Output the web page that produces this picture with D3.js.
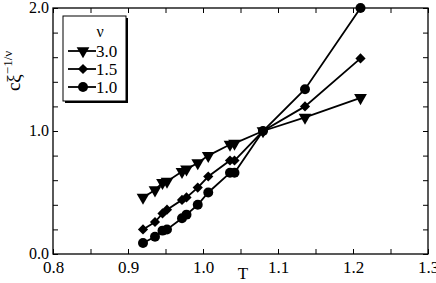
<!DOCTYPE html>
<html>
<head>
<meta charset="utf-8">
<script src="https://cdn.jsdelivr.net/npm/d3@7"></script>
<style>
  body { margin: 0; background: #fff; }
  text { font-family: "Liberation Serif", "DejaVu Serif", serif; fill: #000; }
</style>
</head>
<body>
<div id="chart"></div>
<script>
// temperatures (same for every series)
var temps = [0.92, 0.936, 0.946, 0.952, 0.972, 0.978, 0.993, 1.007, 1.036, 1.042, 1.08, 1.136, 1.21];
// c * xi^(-1/nu) for each nu
var nu30 = [0.46, 0.52, 0.58, 0.59, 0.67, 0.69, 0.74, 0.80, 0.89, 0.90, 1.00, 1.11, 1.27];
var nu15 = [0.20, 0.26, 0.33, 0.36, 0.44, 0.46, 0.54, 0.63, 0.76, 0.76, 1.00, 1.20, 1.59];
var nu10 = [0.09, 0.14, 0.19, 0.20, 0.29, 0.32, 0.40, 0.50, 0.66, 0.66, 1.00, 1.34, 2.00];
var seriesNames = ["3.0", "1.5", "1.0"];
var seriesMarks = ["triangle", "diamond", "circle"];
var xTicks = [0.8, 0.9, 1.0, 1.1, 1.2, 1.3];
var yTicks = [0.0, 1.0, 2.0];

var width = 436, height = 283;
var margin = { top: 8, right: 8, bottom: 29, left: 53 };
var w = width - margin.left - margin.right;
var h = height - margin.top - margin.bottom;

var svg = d3.select("#chart").append("svg")
    .attr("width", width)
    .attr("height", height);

var g = svg.append("g")
    .attr("transform", "translate(" + margin.left + "," + margin.top + ")");

var x = d3.scaleLinear().domain([0.8, 1.3]).range([0, w]);
var y = d3.scaleLinear().domain([0, 2.0]).range([h, 0]);

// minor ticks every 0.05 in x, 0.2 in y
var xMinor = d3.range(0.8, 1.3001, 0.05);
var yMinor = d3.range(0, 2.0001, 0.2);
var tickLen = 5;

function fmt(d) { return d3.format(".1f")(d); }

// bottom axis (labels)
g.append("g")
    .attr("transform", "translate(0," + h + ")")
    .call(d3.axisBottom(x).tickValues(xMinor).tickSize(-tickLen).tickFormat(function (d) {
        return xTicks.some(function (t) { return Math.abs(t - d) < 1e-6; }) ? fmt(d) : "";
    }))
    .call(function (a) {
        a.select(".domain").remove();
        a.selectAll("text").attr("y", 7).attr("dy", "0.71em").style("font-size", "17px");
    });
// top axis
g.append("g")
    .call(d3.axisTop(x).tickValues(xMinor).tickSize(-tickLen).tickFormat(""))
    .call(function (a) { a.select(".domain").remove(); });
// left axis
g.append("g")
    .call(d3.axisLeft(y).tickValues(yMinor).tickSize(-tickLen).tickFormat(function (d) {
        return yTicks.some(function (t) { return Math.abs(t - d) < 1e-6; }) ? fmt(d) : "";
    }))
    .call(function (a) {
        a.select(".domain").remove();
        a.selectAll("text").attr("x", -4).attr("dy", "0.25em").style("font-size", "16px");
    });
// right axis
g.append("g")
    .attr("transform", "translate(" + w + ",0)")
    .call(d3.axisRight(y).tickValues(yMinor).tickSize(-tickLen).tickFormat(""))
    .call(function (a) { a.select(".domain").remove(); });

g.selectAll(".tick line").attr("stroke", "#000").attr("stroke-width", 1);

// frame
g.append("rect")
    .attr("width", w).attr("height", h)
    .attr("fill", "none").attr("stroke", "#000").attr("stroke-width", 1.3);

// axis titles
svg.append("text")
    .attr("x", 243).attr("y", 279)
    .attr("text-anchor", "middle")
    .style("font-size", "17px")
    .text("T");

var yl = svg.append("text")
    .attr("transform", "translate(20,71) rotate(-90)")
    .attr("text-anchor", "middle")
    .style("font-size", "19px");
yl.append("tspan").text("cξ");
yl.append("tspan").attr("dy", -8).style("font-size", "13px").text("−1/ν");

// series
var series = [nu30, nu15, nu10].map(function (vals, i) {
    return {
        name: seriesNames[i],
        mark: seriesMarks[i],
        points: vals.map(function (v, j) { return [temps[j], v]; })
    };
});

var line = d3.line()
    .x(function (d) { return x(d[0]); })
    .y(function (d) { return y(d[1]); });

var symbolType = {
    triangle: d3.symbolTriangle,
    diamond: d3.symbolSquare,
    circle: d3.symbolCircle
};
var symbolSize = { triangle: 70, diamond: 52, circle: 78 };
var symbolRot = { triangle: 180, diamond: 45, circle: 0 };

function symbolPath(kind) {
    return d3.symbol().type(symbolType[kind]).size(symbolSize[kind])();
}

series.forEach(function (s) {
    g.append("path")
        .datum(s.points)
        .attr("fill", "none")
        .attr("stroke", "#000")
        .attr("stroke-width", 1.8)
        .attr("d", line);
    g.selectAll(null)
        .data(s.points)
        .enter()
        .append("path")
        .attr("d", symbolPath(s.mark))
        .attr("transform", function (d) {
            return "translate(" + x(d[0]) + "," + y(d[1]) + ") rotate(" + symbolRot[s.mark] + ")";
        })
        .attr("fill", "#000");
});

// legend
var lg = svg.append("g").attr("transform", "translate(63,16)");
lg.append("rect").attr("x", 2).attr("y", 2).attr("width", 63).attr("height", 85).attr("fill", "#000");
lg.append("rect").attr("width", 63).attr("height", 85)
    .attr("fill", "#fff").attr("stroke", "#000").attr("stroke-width", 1);
lg.append("text").attr("x", 37).attr("y", 21).attr("text-anchor", "middle")
    .style("font-size", "16px").text("ν");
series.forEach(function (s, i) {
    var yy = 35 + i * 18;
    lg.append("line").attr("x1", 5).attr("x2", 33).attr("y1", yy).attr("y2", yy)
        .attr("stroke", "#000").attr("stroke-width", 1.8);
    lg.append("path").attr("d", symbolPath(s.mark))
        .attr("transform", "translate(20," + yy + ") rotate(" + symbolRot[s.mark] + ")")
        .attr("fill", "#000");
    lg.append("text").attr("x", 33).attr("y", yy + 5.5)
        .style("font-size", "17px").text(s.name);
});
</script>
</body>
</html>
